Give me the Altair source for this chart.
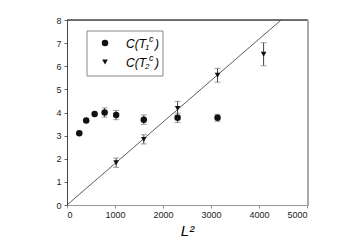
import altair as alt
import pandas as pd

# Series 1: C(T1^c)
x1 = [256, 400, 576, 784, 1024, 1600, 2304, 3136]
y1 = [3.1, 3.65, 3.94, 4.0, 3.89, 3.69, 3.77, 3.77]
e1 = [0.0, 0.0, 0.0, 0.2, 0.2, 0.2, 0.2, 0.15]
# Series 2: C(T2^c)
x2 = [1024, 1600, 2304, 3136, 4096]
y2 = [1.83, 2.84, 4.18, 5.61, 6.52]
e2 = [0.2, 0.2, 0.3, 0.3, 0.5]
# Fitted line through origin
line_x = [0, 4460]
line_y = [0, 8]

xticks = [0, 1000, 2000, 3000, 4000, 5000]
yticks = [0, 1, 2, 3, 4, 5, 6, 7, 8]

d1 = pd.DataFrame({"x": x1, "y": y1, "lo": [a - b for a, b in zip(y1, e1)], "hi": [a + b for a, b in zip(y1, e1)], "e": e1})
d2 = pd.DataFrame({"x": x2, "y": y2, "lo": [a - b for a, b in zip(y2, e2)], "hi": [a + b for a, b in zip(y2, e2)], "e": e2})
dl = pd.DataFrame({"x": line_x, "y": line_y})

xs = alt.Scale(domain=[0, 5000], nice=False)
ys = alt.Scale(domain=[0, 8], nice=False)
xaxis = alt.Axis(values=xticks, format="d", title="L²", titleFontStyle="italic",
                 titleFontSize=15, titleFontWeight="normal", titleFont="Liberation Sans", titleColor="#000",
                 titlePadding=4, labelFont="Liberation Sans", labelFontSize=9, labelColor="#222",
                 labelOverlap=False, domainColor="#999", tickColor="#999", tickSize=3, grid=False)
yaxis = alt.Axis(values=yticks, format="d", title=None, labelFont="Liberation Sans",
                 labelFontSize=9, labelColor="#222", labelOverlap=False, domainColor="#444", tickColor="#666",
                 tickSize=3, grid=False, labelPadding=3)

def X(f="x"):
    return alt.X(f"{f}:Q", scale=xs, axis=xaxis)

def Y(f="y"):
    return alt.Y(f"{f}:Q", scale=ys, axis=yaxis)

line = alt.Chart(dl).mark_line(color="#333", strokeWidth=0.8, clip=True).encode(x=X(), y=Y())

def errs(df):
    dfe = df[df["e"] > 0]
    base = alt.Chart(dfe)
    r = base.mark_rule(color="#444", strokeWidth=1).encode(x=X(), y=Y("lo"), y2="hi:Q")
    t1 = base.mark_tick(color="#777", size=6, thickness=1, orient="horizontal").encode(x=X(), y=Y("lo"))
    t2 = base.mark_tick(color="#777", size=6, thickness=1, orient="horizontal").encode(x=X(), y=Y("hi"))
    return r + t1 + t2

p1 = alt.Chart(d1).mark_point(shape="circle", filled=True, color="#111", size=42, opacity=1).encode(x=X(), y=Y())
p2 = alt.Chart(d2).mark_point(shape="triangle-down", filled=True, color="#111", size=32, opacity=1).encode(x=X(), y=Y())

right = alt.Chart(dl).mark_rule(color="#aaa", strokeWidth=2).encode(
    x=alt.value(241), y=alt.value(0), y2=alt.value(186))
top = alt.Chart(dl).mark_rule(color="#444", strokeWidth=1).encode(
    x=alt.value(0), x2=alt.value(241), y=alt.value(0))

# Legend
leg = pd.DataFrame({"k": [0]})
box = alt.Chart(leg).mark_rect(fill="white", stroke="#888", strokeWidth=1).encode(
    x=alt.value(20), x2=alt.value(96), y=alt.value(11), y2=alt.value(56))
lm1 = alt.Chart(leg).mark_point(shape="circle", filled=True, color="#111", size=42, opacity=1).encode(
    x=alt.value(38), y=alt.value(23))
lm2 = alt.Chart(leg).mark_point(shape="triangle-down", filled=True, color="#111", size=32, opacity=1).encode(
    x=alt.value(38), y=alt.value(42))

def ltext(txt, x, y, size):
    return alt.Chart(leg).mark_text(align="left", baseline="alphabetic", font="Liberation Sans",
                                    fontStyle="italic", fontSize=size, color="#000").encode(
        x=alt.value(x), y=alt.value(y), text=alt.value(txt))

legend_texts = []
for row_y, sub in [(27.5, "1"), (46.5, "2")]:
    legend_texts += [ltext("C(T", 59, row_y, 12), ltext(sub, 78, row_y + 2.5, 8),
                     ltext("c", 82, row_y - 6, 9), ltext(")", 88, row_y, 12)]

chart = alt.layer(line, errs(d1), errs(d2), p1, p2, top, right, box, lm1, lm2, *legend_texts).properties(
    width=240, height=185, autosize=alt.AutoSizeParams(type="none"),
    padding={"left": 59, "top": 12, "right": 10, "bottom": 40}
).configure_view(stroke=None).configure(background="white")

chart.save("out.html", embed_options={"renderer": "svg", "actions": False})
